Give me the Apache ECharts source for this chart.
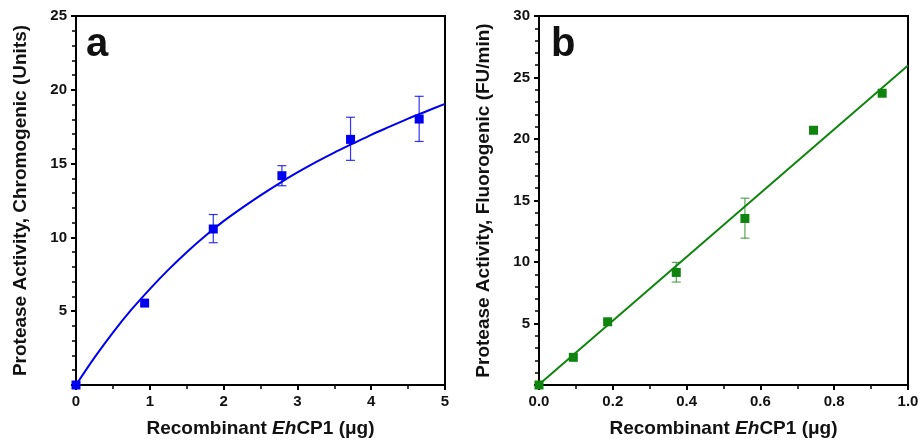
<!DOCTYPE html>
<html>
<head>
<meta charset="utf-8">
<script src="https://cdn.jsdelivr.net/npm/echarts@6/dist/echarts.min.js"></script>
<style>html,body{margin:0;padding:0;background:#fff}#c{width:922px;height:443px}</style>
</head>
<body>
<div id="c"></div>
<script>
// ---- Panel a (chromogenic) ----
const aX = [0, 0.93, 1.86, 2.79, 3.72, 4.65];
const aY = [0, 5.55, 10.57, 14.18, 16.64, 18.02];
const aErrLow = [null, null, 9.64, 13.5, 15.22, 16.5];
const aErrHigh = [null, null, 11.55, 14.86, 18.14, 19.56];
const aCurveX = [0, 0.25, 0.5, 0.75, 1, 1.25, 1.5, 1.75, 2, 2.25, 2.5, 2.75, 3, 3.25, 3.5, 3.75, 4, 4.25, 4.5, 4.75, 5];
const aCurveY = [0, 1.85, 3.55, 5.1, 6.5, 7.8, 9.0, 10.1, 11.1, 12.0, 12.85, 13.65, 14.4, 15.1, 15.75, 16.35, 16.95, 17.5, 18.05, 18.55, 19.05];
// ---- Panel b (fluorogenic) ----
const bX = [0, 0.093, 0.186, 0.372, 0.558, 0.744, 0.93];
const bY = [0, 2.25, 5.14, 9.15, 13.54, 20.71, 23.72];
const bErrLow = [null, null, null, 8.37, 11.94, null, null];
const bErrHigh = [null, null, null, 9.97, 15.19, null, null];
const bLineX = [0, 1.0];
const bLineY = [0.05, 25.97];
// ---- axis text ----
const xTitle = 'Recombinant {i|Eh}CP1 (μg)';
const aYTitle = 'Protease Activity, Chromogenic (Units)';
const bYTitle = 'Protease Activity, Fluorogenic (FU/min)';

const FONT = '"Liberation Sans", Arial, Helvetica, sans-serif';
const BLUE = '#0000f0';
const GREEN = '#0f850f';

function pairs(xs, ys) { return xs.map((x, i) => [x, ys[i]]); }
function errData(xs, lo, hi) {
  const out = [];
  xs.forEach((x, i) => { if (lo[i] != null) out.push([x, lo[i], hi[i]]); });
  return out;
}
function errRender(color, opacity) {
  return function (params, api) {
    const x = api.value(0);
    const pLo = api.coord([x, api.value(1)]);
    const pHi = api.coord([x, api.value(2)]);
    const w = 4.5;
    const st = { stroke: color, lineWidth: 1.2, opacity: opacity };
    return {
      type: 'group',
      children: [
        { type: 'line', shape: { x1: pLo[0], y1: pLo[1], x2: pHi[0], y2: pHi[1] }, style: st },
        { type: 'line', shape: { x1: pLo[0] - w, y1: pLo[1], x2: pLo[0] + w, y2: pLo[1] }, style: st },
        { type: 'line', shape: { x1: pHi[0] - w, y1: pHi[1], x2: pHi[0] + w, y2: pHi[1] }, style: st }
      ]
    };
  };
}
function xAxisCfg(idx, max, interval, fmt) {
  return {
    type: 'value', gridIndex: idx, min: 0, max: max, interval: interval,
    name: xTitle, nameLocation: 'middle', nameGap: 34,
    nameTextStyle: { fontFamily: FONT, fontSize: 19, fontWeight: 'bold', color: '#111',
      rich: { i: { fontFamily: FONT, fontSize: 19, fontWeight: 'bold', fontStyle: 'italic', color: '#111' } } },
    axisLine: { onZero: false, lineStyle: { color: '#000', width: 2 } },
    axisTick: { show: true, inside: false, length: 5, lineStyle: { color: '#000', width: 2 } },
    minorTick: { show: true, splitNumber: 2, length: 4, lineStyle: { color: '#000', width: 1.5 } },
    axisLabel: { fontFamily: FONT, fontSize: 15, fontWeight: 'bold', color: '#111', margin: 9, formatter: fmt },
    splitLine: { show: false }
  };
}
function yAxisCfg(idx, max, name) {
  return {
    type: 'value', gridIndex: idx, min: 0, max: max, interval: 5,
    name: name, nameLocation: 'middle', nameGap: 46,
    nameTextStyle: { fontFamily: FONT, fontSize: 19, fontWeight: 'bold', color: '#111' },
    axisLine: { onZero: false, lineStyle: { color: '#000', width: 2 } },
    axisTick: { show: true, inside: false, length: 5, lineStyle: { color: '#000', width: 2 } },
    minorTick: { show: true, splitNumber: 5, length: 4, lineStyle: { color: '#000', width: 1.5 } },
    axisLabel: { fontFamily: FONT, fontSize: 15, fontWeight: 'bold', color: '#111', margin: 9,
      formatter: v => (v === 0 ? '' : String(v)) },
    splitLine: { show: false }
  };
}

const chart = echarts.init(document.getElementById('c'));
chart.setOption({
  animation: false,
  backgroundColor: '#fff',
  title: [
    { text: 'a', left: 86, top: 25, padding: 0, textStyle: { fontFamily: FONT, fontSize: 40, fontWeight: 'bold', color: '#111' } },
    { text: 'b', left: 551, top: 25, padding: 0, textStyle: { fontFamily: FONT, fontSize: 40, fontWeight: 'bold', color: '#111' } }
  ],
  grid: [
    { left: 76, top: 16, width: 369, height: 369, show: true, borderColor: '#000', borderWidth: 2, backgroundColor: 'transparent' },
    { left: 539, top: 16, width: 369, height: 369, show: true, borderColor: '#000', borderWidth: 2, backgroundColor: 'transparent' }
  ],
  xAxis: [
    xAxisCfg(0, 5, 1, v => String(v)),
    xAxisCfg(1, 1, 0.2, v => v.toFixed(1))
  ],
  yAxis: [
    yAxisCfg(0, 25, aYTitle),
    yAxisCfg(1, 30, bYTitle)
  ],
  series: [
    { type: 'line', xAxisIndex: 0, yAxisIndex: 0, data: pairs(aCurveX, aCurveY), smooth: 0.3,
      showSymbol: false, lineStyle: { color: BLUE, width: 2 }, z: 3 },
    { type: 'custom', xAxisIndex: 0, yAxisIndex: 0, data: errData(aX, aErrLow, aErrHigh),
      renderItem: errRender(BLUE, 0.8), z: 4 },
    { type: 'scatter', xAxisIndex: 0, yAxisIndex: 0, data: pairs(aX, aY), symbol: 'rect', symbolSize: 9,
      itemStyle: { color: BLUE, opacity: 1 }, clip: false, z: 5 },

    { type: 'line', xAxisIndex: 1, yAxisIndex: 1, data: pairs(bLineX, bLineY),
      showSymbol: false, lineStyle: { color: GREEN, width: 2 }, z: 3 },
    { type: 'custom', xAxisIndex: 1, yAxisIndex: 1, data: errData(bX, bErrLow, bErrHigh),
      renderItem: errRender(GREEN, 0.7), z: 4 },
    { type: 'scatter', xAxisIndex: 1, yAxisIndex: 1, data: pairs(bX, bY), symbol: 'rect', symbolSize: 9,
      itemStyle: { color: GREEN, opacity: 1 }, clip: false, z: 5 }
  ]
});
</script>
</body>
</html>
